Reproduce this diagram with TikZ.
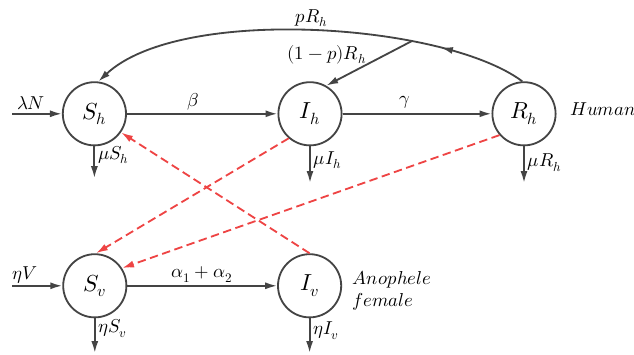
\documentclass[tikz,border=0pt]{standalone}
\usepackage{amsmath}
\usepackage{unicode-math}
\usepackage{xcolor}
\usepackage{tikz}
\usetikzlibrary{arrows.meta,positioning,decorations.markings}
\definecolor{lin}{HTML}{444444}
\definecolor{dashred}{HTML}{EE4444}

\begin{document}
\begin{tikzpicture}[
  font=\fontsize{13.3}{16}\selectfont, >={Latex[length=8.5pt,width=5pt]},
  comp/.style={circle, draw=lin, line width=1.3pt, minimum size=1.58cm, inner sep=0pt, font=\fontsize{16.5}{20}\selectfont},
  flow/.style={->, draw=lin, line width=1.3pt},
  inf/.style={->, draw=dashred, line width=1.3pt, dash pattern=on 6pt off 3.2pt}]
\useasboundingbox (0,0) rectangle (15.85,8.875);
\node[comp] (Sh) at (2.36,6.03) {$S_h$};
\node[comp] (Ih) at (7.75,6.03) {$I_h$};
\node[comp] (Rh) at (13.1,6.03) {$R_h$};
\node[comp] (Sv) at (2.37,1.73) {$S_v$};
\node[comp] (Iv) at (7.74,1.73) {$I_v$};
\node[right=0.33cm of Rh, inner sep=0pt, yshift=3.5pt] (hum) {$Human$};
\node[right=0.26cm of Iv, inner sep=0pt, align=left, yshift=-3.5pt] (ano) {$Anophele$\\$female$};
\coordinate (inH) at (0.3,6.03);
\coordinate (inV) at (0.3,1.73);
\coordinate (dSh) at (2.36,4.42);
\coordinate (dIh) at (7.75,4.3);
\coordinate (dRh) at (13.1,4.3);
\coordinate (dSv) at (2.37,0.05);
\coordinate (dIv) at (7.74,0.05);
\draw[flow] (inH) -- (Sh) node[pos=0.38, above, inner sep=2pt] {$\lambda N$};
\draw[flow] (Sh) -- (Ih) node[midway, above, xshift=-0.22cm, inner sep=2pt] {$\beta$};
\draw[flow] (Ih) -- (Rh) node[midway, above, xshift=-0.3cm, inner sep=3pt] {$\gamma$};
\draw[flow] (Sh) -- (dSh) node[pos=0.27, right, inner sep=2pt] {$\mu S_h$};
\draw[flow] (Ih) -- (dIh) node[pos=0.38, right, inner sep=2pt] {$\mu I_h$};
\draw[flow] (Rh) -- (dRh) node[pos=0.44, right, inner sep=2pt] {$\mu R_h$};
\draw[flow, postaction={decorate},
  decoration={markings, mark=at position 0.2 with {\arrow{Latex[length=8.5pt,width=5pt]}}}]
  (Rh.93) .. controls (11.1,8.3) and (4.5,8.75) .. (Sh.83)
  coordinate[pos=0.3] (split) node[pos=0.5, above, inner sep=2pt] {$pR_h$};
\draw[flow] (split) -- (Ih.60) node[pos=0.3, left=0.35cm] {$(1-p)R_h$};
\draw[flow] (inV) -- (Sv) node[pos=0.25, above, inner sep=1pt] {$\eta V$};
\draw[flow] (Sv) -- (Iv) node[midway, above, inner sep=2pt] {$\alpha_1+\alpha_2$};
\draw[flow] (Sv) -- (dSv) node[pos=0.3, right, inner sep=2pt] {$\eta S_v$};
\draw[flow] (Iv) -- (dIv) node[pos=0.35, right, inner sep=2pt] {$\eta I_v$};
\draw[inf] (Ih.229) -- (Sv.88);
\draw[inf] (Rh.221) -- (Sv.33);
\draw[inf] (Iv.north) -- (Sh.-35);
\end{tikzpicture}
\end{document}
